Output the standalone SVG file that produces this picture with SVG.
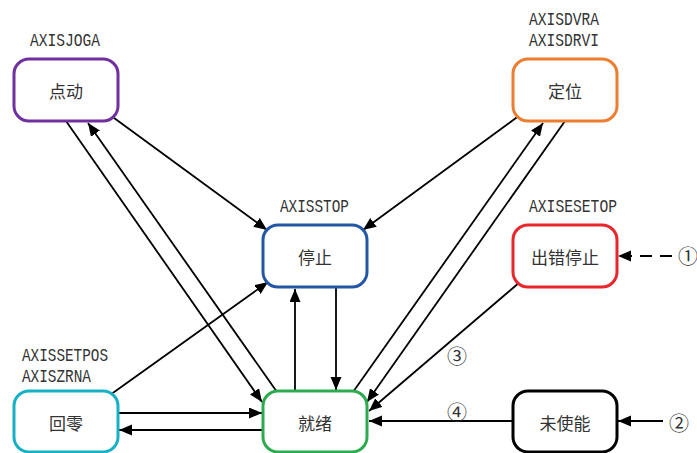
<svg xmlns="http://www.w3.org/2000/svg" width="697" height="453" viewBox="0 0 697 453">
<style>
.n{fill:#fff;stroke-width:3}
.t{font-family:"Noto Sans CJK SC",sans-serif;font-size:17px;fill:#333;text-anchor:middle;dominant-baseline:central}
.l{font-family:"Liberation Mono",monospace;font-size:18px;fill:#333}
.c{fill:none;stroke:#000;stroke-width:1.8;marker-end:url(#ah)}
.num{font-family:"Noto Sans CJK SC",sans-serif;font-size:20px;fill:#333;text-anchor:middle;dominant-baseline:central}
</style>
<defs>
<marker id="ah" markerUnits="userSpaceOnUse" markerWidth="14" markerHeight="12" refX="13" refY="5.5" orient="auto">
<path d="M0,0 L13,5.5 L0,11 z" fill="#000"/>
</marker>
</defs>
<rect width="697" height="453" fill="#fff"/>
<g id="connectors">
<line class="c" x1="110" y1="115" x2="267" y2="230"/>
<line class="c" x1="66" y1="121" x2="262" y2="402"/>
<line class="c" x1="277" y1="392" x2="88" y2="123"/>
<line class="c" x1="520" y1="115" x2="363" y2="230"/>
<line class="c" x1="353" y1="392" x2="543" y2="123"/>
<line class="c" x1="565" y1="121" x2="367" y2="402"/>
<line class="c" x1="520" y1="282" x2="369" y2="411"/>
<line class="c" x1="110" y1="395" x2="268" y2="282"/>
<line class="c" x1="295" y1="391" x2="295" y2="289"/>
<line class="c" x1="336" y1="288" x2="336" y2="390"/>
<line class="c" x1="118" y1="413" x2="262" y2="413"/>
<line class="c" x1="263" y1="430" x2="119" y2="430"/>
<line class="c" x1="512" y1="421" x2="369" y2="421"/>
<line class="c" x1="663" y1="421" x2="618" y2="421"/>
<line class="c" x1="672" y1="256" x2="618" y2="256" stroke-dasharray="12,8"/>
</g>
<g id="n-jog">
<rect class="n" x="14" y="59" width="104" height="62" rx="15" stroke="#7030A0"/>
<text class="t" x="66" y="90">点动</text>
<text class="l" x="30" y="46" textLength="70" lengthAdjust="spacingAndGlyphs">AXISJOGA</text>
</g>
<g id="n-pos">
<rect class="n" x="513" y="59" width="104" height="62" rx="15" stroke="#ED7D31"/>
<text class="t" x="565" y="90">定位</text>
<text class="l" x="529" y="25" textLength="70" lengthAdjust="spacingAndGlyphs">AXISDVRA</text>
<text class="l" x="529" y="46" textLength="70" lengthAdjust="spacingAndGlyphs">AXISDRVI</text>
</g>
<g id="n-stop">
<rect class="n" x="263" y="225" width="104" height="62" rx="15" stroke="#2456A6"/>
<text class="t" x="315" y="256">停止</text>
<text class="l" x="280" y="212" textLength="69" lengthAdjust="spacingAndGlyphs">AXISSTOP</text>
</g>
<g id="n-err">
<rect class="n" x="513" y="225" width="104" height="62" rx="15" stroke="#E8262C"/>
<text class="t" x="565" y="256">出错停止</text>
<text class="l" x="529" y="212" textLength="88" lengthAdjust="spacingAndGlyphs">AXISESETOP</text>
</g>
<g id="n-home">
<rect class="n" x="14" y="391" width="104" height="61" rx="15" stroke="#17B1C6"/>
<text class="t" x="66" y="422">回零</text>
<text class="l" x="22" y="361" textLength="86" lengthAdjust="spacingAndGlyphs">AXISSETPOS</text>
<text class="l" x="22" y="382" textLength="69" lengthAdjust="spacingAndGlyphs">AXISZRNA</text>
</g>
<g id="n-ready">
<rect class="n" x="263" y="391" width="104" height="61" rx="15" stroke="#2CAB4E"/>
<text class="t" x="315" y="422">就绪</text>
</g>
<g id="n-disabled">
<rect class="n" x="513" y="391" width="104" height="61" rx="15" stroke="#000"/>
<text class="t" x="565" y="422">未使能</text>
</g>
<g id="labels">
<text class="num" x="688" y="255">①</text>
<text class="num" x="679" y="422">②</text>
<text class="num" x="457" y="355">③</text>
<text class="num" x="457" y="411">④</text>
</g>
</svg>
